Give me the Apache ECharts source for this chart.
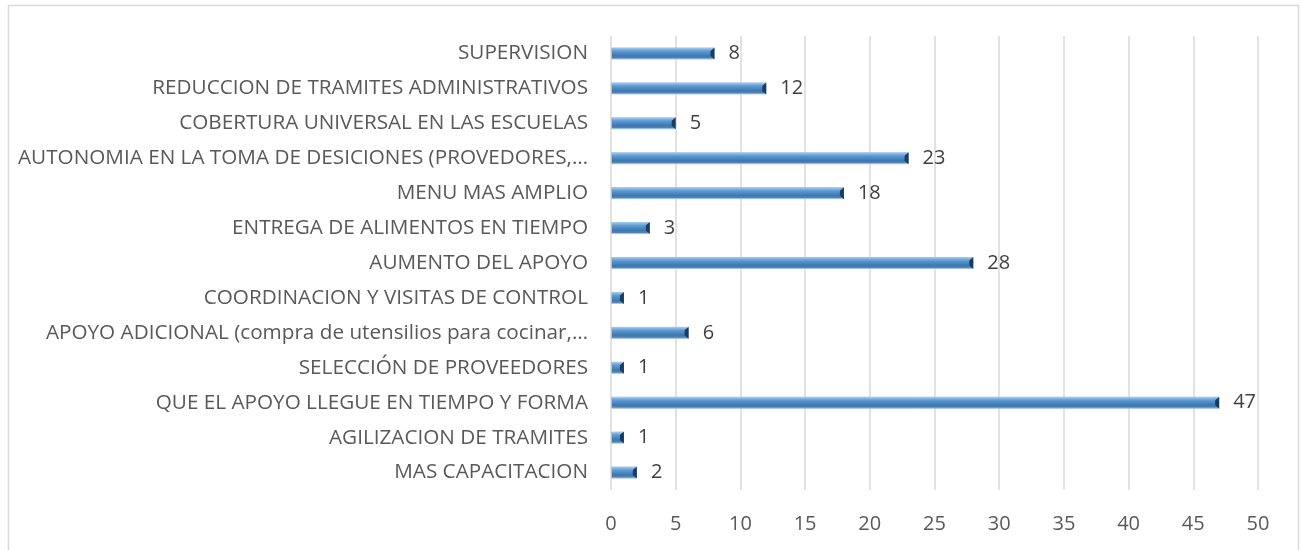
<!DOCTYPE html>
<html>
<head>
<meta charset="utf-8">
<script src="https://cdn.jsdelivr.net/npm/echarts@6/dist/echarts.min.js"></script>
<style>
html,body{margin:0;padding:0;background:#fff;}
#chart{width:1301px;height:550px;}
</style>
</head>
<body>
<div id="chart"></div>
<script>
const categories = [
  "SUPERVISION",
  "REDUCCION DE TRAMITES ADMINISTRATIVOS",
  "COBERTURA UNIVERSAL EN LAS ESCUELAS",
  "AUTONOMIA EN LA TOMA DE DESICIONES (PROVEDORES,…",
  "MENU MAS AMPLIO",
  "ENTREGA DE ALIMENTOS EN TIEMPO",
  "AUMENTO DEL APOYO",
  "COORDINACION Y VISITAS DE CONTROL",
  "APOYO ADICIONAL (compra de utensilios para cocinar,…",
  "SELECCIÓN DE PROVEEDORES",
  "QUE EL APOYO LLEGUE EN TIEMPO Y FORMA",
  "AGILIZACION DE TRAMITES",
  "MAS CAPACITACION"
];
const values = [8, 12, 5, 23, 18, 3, 28, 1, 6, 1, 47, 1, 2];
const xTicks = [0, 5, 10, 15, 20, 25, 30, 35, 40, 45, 50];

const chart = echarts.init(document.getElementById('chart'), null, {renderer: 'canvas'});
const FONT = '"Open Sans", "Noto Sans", sans-serif';
chart.setOption({
  animation: false,
  backgroundColor: '#ffffff',
  graphic: [{
    type: 'rect',
    shape: {x: 8.5, y: 5.5, width: 1290, height: 560},
    style: {fill: 'none', stroke: '#d9d9d9', lineWidth: 1.5},
    silent: true
  }],
  grid: {left: 611, right: 43, top: 36, bottom: 60, containLabel: false},
  xAxis: {
    type: 'value',
    min: xTicks[0],
    max: xTicks[xTicks.length - 1],
    interval: xTicks[1] - xTicks[0],
    axisLine: {show: false},
    axisTick: {show: false},
    axisLabel: {color: '#595959', fontSize: 20, fontFamily: FONT, margin: 24},
    splitLine: {show: true, lineStyle: {color: '#d9d9d9', width: 1.5}}
  },
  yAxis: {
    type: 'category',
    data: categories,
    inverse: true,
    axisLine: {show: false},
    axisTick: {show: false},
    axisLabel: {color: '#595959', fontSize: 20.7, fontFamily: FONT, margin: 23},
    splitLine: {show: false}
  },
  series: [{
    type: 'bar',
    data: values,
    barWidth: 12,
    itemStyle: {
      color: new echarts.graphic.LinearGradient(0, 0, 0, 1, [
        {offset: 0, color: '#a9cdf2'},
        {offset: 0.3, color: '#5b9bd5'},
        {offset: 0.7, color: '#3f76ad'},
        {offset: 1, color: '#5a8fc4'}
      ]),
      borderColor: '#9dc3e6',
      borderWidth: 1
    },
    label: {
      show: true,
      position: 'right',
      distance: 14,
      color: '#404040',
      fontSize: 20,
      fontFamily: FONT
    }
  }, {
    type: 'custom',
    data: values.map((v, i) => [v, i]),
    encode: {x: 0, y: 1},
    z: 5,
    silent: true,
    renderItem: function (params, api) {
      const p = api.coord([api.value(0), api.value(1)]);
      const x = p[0], y = p[1];
      return {
        type: 'polygon',
        shape: {points: [[x, y - 6], [x, y + 6], [x - 4, y + 2.5], [x - 4, y - 2.5]]},
        style: {fill: '#1f3b5a'}
      };
    }
  }]
});
</script>
</body>
</html>
